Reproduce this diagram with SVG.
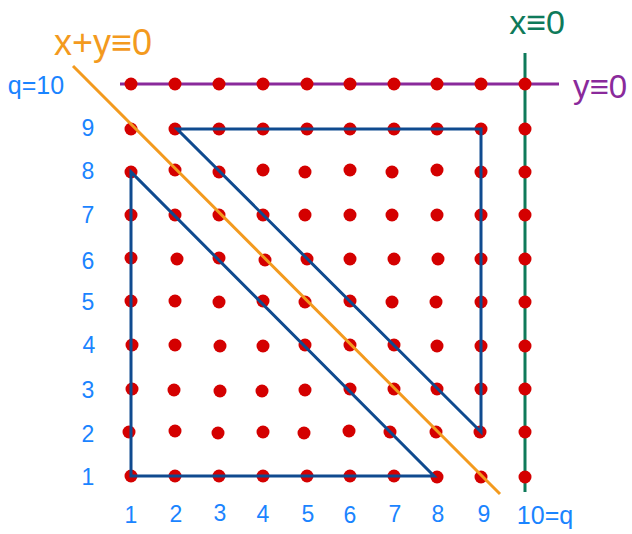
<svg xmlns="http://www.w3.org/2000/svg" width="632" height="534" viewBox="0 0 632 534">
<style>
.lbl{font-family:"Liberation Sans",Arial,sans-serif;font-size:23px;fill:#1a84ff;text-anchor:middle;dominant-baseline:central}
.big{font-family:"Liberation Sans",Arial,sans-serif;text-anchor:middle;dominant-baseline:central}
.dot{fill:#d40000}
.ln{fill:none;stroke-width:3;stroke-linejoin:miter}
</style>
<rect width="632" height="534" fill="#ffffff"/>
<g id="axes">
<line x1="120" y1="84" x2="559" y2="84" stroke="#8a2a9b" stroke-width="3"/>
<line x1="525" y1="53" x2="525" y2="492" stroke="#0e7a5a" stroke-width="3"/>
</g>
<g id="dots" class="dot">
<g id="row10"><circle cx="131" cy="84" r="6.5"/><circle cx="175" cy="84" r="6.5"/><circle cx="219" cy="84" r="6.5"/><circle cx="263" cy="84" r="6.5"/><circle cx="307" cy="84" r="6.5"/><circle cx="350" cy="84" r="6.5"/><circle cx="394" cy="84" r="6.5"/><circle cx="437" cy="84" r="6.5"/><circle cx="481" cy="84" r="6.5"/><circle cx="525" cy="84" r="6.5"/></g>
<g id="row9"><circle cx="131" cy="129" r="6.5"/><circle cx="175" cy="129" r="6.5"/><circle cx="219" cy="129" r="6.5"/><circle cx="263" cy="129" r="6.5"/><circle cx="307" cy="129" r="6.5"/><circle cx="350" cy="129" r="6.5"/><circle cx="394" cy="129" r="6.5"/><circle cx="437" cy="129" r="6.5"/><circle cx="481" cy="129" r="6.5"/><circle cx="525" cy="129" r="6.5"/></g>
<g id="row8"><circle cx="131" cy="172" r="6.5"/><circle cx="175" cy="170" r="6.5"/><circle cx="219" cy="172" r="6.5"/><circle cx="263" cy="170" r="6.5"/><circle cx="305" cy="172" r="6.5"/><circle cx="350" cy="170" r="6.5"/><circle cx="392" cy="172" r="6.5"/><circle cx="437" cy="170" r="6.5"/><circle cx="481" cy="172" r="6.5"/><circle cx="525" cy="172" r="6.5"/></g>
<g id="row7"><circle cx="131" cy="215" r="6.5"/><circle cx="175" cy="215" r="6.5"/><circle cx="219" cy="215" r="6.5"/><circle cx="263" cy="215" r="6.5"/><circle cx="305" cy="215" r="6.5"/><circle cx="350" cy="215" r="6.5"/><circle cx="392" cy="215" r="6.5"/><circle cx="437" cy="215" r="6.5"/><circle cx="481" cy="215" r="6.5"/><circle cx="525" cy="215" r="6.5"/></g>
<g id="row6"><circle cx="131" cy="258" r="6.5"/><circle cx="177" cy="259" r="6.5"/><circle cx="219" cy="258" r="6.5"/><circle cx="265" cy="260" r="6.5"/><circle cx="307" cy="259" r="6.5"/><circle cx="350" cy="259" r="6.5"/><circle cx="394" cy="259" r="6.5"/><circle cx="438" cy="259" r="6.5"/><circle cx="481" cy="259" r="6.5"/><circle cx="525" cy="259" r="6.5"/></g>
<g id="row5"><circle cx="131" cy="301" r="6.5"/><circle cx="175" cy="301" r="6.5"/><circle cx="219" cy="302" r="6.5"/><circle cx="263" cy="301" r="6.5"/><circle cx="305" cy="302" r="6.5"/><circle cx="350" cy="301" r="6.5"/><circle cx="392" cy="302" r="6.5"/><circle cx="436" cy="302" r="6.5"/><circle cx="481" cy="302" r="6.5"/><circle cx="525" cy="302" r="6.5"/></g>
<g id="row4"><circle cx="132" cy="345" r="6.5"/><circle cx="175" cy="345" r="6.5"/><circle cx="220" cy="346" r="6.5"/><circle cx="263" cy="346" r="6.5"/><circle cx="305" cy="345" r="6.5"/><circle cx="350" cy="345" r="6.5"/><circle cx="394" cy="345" r="6.5"/><circle cx="437" cy="346" r="6.5"/><circle cx="481" cy="346" r="6.5"/><circle cx="525" cy="346" r="6.5"/></g>
<g id="row3"><circle cx="132" cy="389" r="6.5"/><circle cx="174" cy="390" r="6.5"/><circle cx="220" cy="391" r="6.5"/><circle cx="262" cy="391" r="6.5"/><circle cx="305" cy="390" r="6.5"/><circle cx="350" cy="389" r="6.5"/><circle cx="394" cy="389" r="6.5"/><circle cx="437" cy="389" r="6.5"/><circle cx="481" cy="389" r="6.5"/><circle cx="525" cy="389" r="6.5"/></g>
<g id="row2"><circle cx="129" cy="432" r="6.5"/><circle cx="175" cy="431" r="6.5"/><circle cx="218" cy="433" r="6.5"/><circle cx="263" cy="432" r="6.5"/><circle cx="304" cy="433" r="6.5"/><circle cx="349" cy="431" r="6.5"/><circle cx="390" cy="432" r="6.5"/><circle cx="436" cy="432" r="6.5"/><circle cx="480" cy="432" r="6.5"/><circle cx="525" cy="432" r="6.5"/></g>
<g id="row1"><circle cx="131" cy="476" r="6.5"/><circle cx="175" cy="476" r="6.5"/><circle cx="219" cy="476" r="6.5"/><circle cx="263" cy="476" r="6.5"/><circle cx="307" cy="476" r="6.5"/><circle cx="350" cy="476" r="6.5"/><circle cx="394" cy="476" r="6.5"/><circle cx="437" cy="477" r="6.5"/><circle cx="481" cy="477" r="6.5"/><circle cx="525" cy="477" r="6.5"/></g>
</g>
<g id="connectors">
<polygon class="ln" stroke="#0f4a8f" points="131,172 131,476 434,476"/>
<polygon class="ln" stroke="#0f4a8f" points="177,129 481,129 481,432"/>
<line x1="73" y1="66" x2="500" y2="494" stroke="#f39a1e" stroke-width="3"/>
</g>
<g id="labels">
<text class="big" x="103" y="42" style="font-size:36px;fill:#f39a1e">x+y≡0</text>
<text class="big" x="537" y="22" style="font-size:34px;fill:#0e7a5a">x≡0</text>
<text class="big" x="600" y="86" style="font-size:33px;fill:#8a2a9b">y≡0</text>
<text class="lbl" x="36" y="85" style="font-size:25px">q=10</text>
<text class="lbl" x="88" y="128">9</text>
<text class="lbl" x="88" y="171">8</text>
<text class="lbl" x="88" y="215">7</text>
<text class="lbl" x="88" y="261">6</text>
<text class="lbl" x="88" y="302">5</text>
<text class="lbl" x="89" y="345">4</text>
<text class="lbl" x="88" y="390">3</text>
<text class="lbl" x="88" y="434">2</text>
<text class="lbl" x="88" y="477">1</text>
<text class="lbl" x="131" y="515">1</text>
<text class="lbl" x="176" y="514">2</text>
<text class="lbl" x="220" y="513">3</text>
<text class="lbl" x="263" y="514">4</text>
<text class="lbl" x="308" y="514">5</text>
<text class="lbl" x="350" y="515">6</text>
<text class="lbl" x="395" y="514">7</text>
<text class="lbl" x="438" y="514">8</text>
<text class="lbl" x="484" y="514">9</text>
<text class="lbl" x="545" y="515" style="font-size:25px">10=q</text>
</g>
</svg>
